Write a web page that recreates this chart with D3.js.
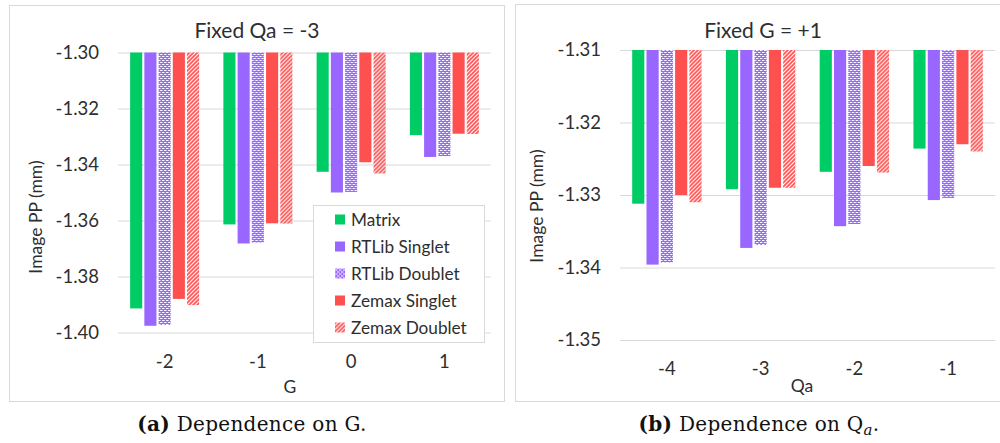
<!DOCTYPE html>
<html>
<head>
<meta charset="utf-8">
<script src="https://cdn.jsdelivr.net/npm/d3@7"></script>
<style>
  html, body { margin: 0; padding: 0; background: #fff; }
  svg { display: block; }
  text { font-family: Lato, "Open Sans", sans-serif; fill: #2e2e2e; }
  .caption { font-family: "DejaVu Serif", serif; fill: #111; }
</style>
</head>
<body>
<svg id="chart" width="1000" height="443"></svg>
<script>
// Series shown in both panels
const seriesNames = ["Matrix", "RTLib Singlet", "RTLib Doublet", "Zemax Singlet", "Zemax Doublet"];

// Panel (a): image principal plane vs G, Qa fixed at -3
const gCategories = ["-2", "-1", "0", "1"];
const gMatrix       = [-1.3914, -1.3614, -1.3426, -1.3295];
const gRTLibSinglet = [-1.3976, -1.3682, -1.3500, -1.3373];
const gRTLibDoublet = [-1.3973, -1.3679, -1.3498, -1.3370];
const gZemaxSinglet = [-1.3880, -1.3610, -1.3392, -1.3290];
const gZemaxDoublet = [-1.3902, -1.3611, -1.3432, -1.3291];
const gTicks = [-1.30, -1.32, -1.34, -1.36, -1.38, -1.40];

// Panel (b): image principal plane vs Qa, G fixed at +1
const qCategories = ["-4", "-3", "-2", "-1"];
const qMatrix       = [-1.3312, -1.3292, -1.3268, -1.3236];
const qRTLibSinglet = [-1.3396, -1.3373, -1.3343, -1.3307];
const qRTLibDoublet = [-1.3393, -1.3369, -1.3340, -1.3304];
const qZemaxSinglet = [-1.3300, -1.3290, -1.3260, -1.3230];
const qZemaxDoublet = [-1.3310, -1.3290, -1.3269, -1.3240];
const qTicks = [-1.31, -1.32, -1.33, -1.34, -1.35];

const GREEN = "#00CC66", PURPLE = "#9966FF", RED = "#FF5050";
const GRID = "#d9d9d9";

const svg = d3.select("#chart");
const defs = svg.append("defs");

// Dotted-grid fill for RTLib Doublet
const pDot = defs.append("pattern").attr("id", "patDot")
  .attr("patternUnits", "userSpaceOnUse").attr("width", 4).attr("height", 4);
pDot.append("rect").attr("width", 4).attr("height", 4).attr("fill", PURPLE);
pDot.append("rect").attr("x", 0).attr("y", 0).attr("width", 2).attr("height", 1).attr("fill", "#fff");
pDot.append("rect").attr("x", 2).attr("y", 2).attr("width", 2).attr("height", 1).attr("fill", "#fff");
pDot.append("rect").attr("x", 2).attr("y", 0).attr("width", 1).attr("height", 1).attr("fill", "#c8b0ff");
pDot.append("rect").attr("x", 0).attr("y", 2).attr("width", 1).attr("height", 1).attr("fill", "#c8b0ff");

// Upward diagonal stripes for Zemax Doublet
const pDiag = defs.append("pattern").attr("id", "patDiag")
  .attr("patternUnits", "userSpaceOnUse").attr("width", 4).attr("height", 4);
pDiag.append("rect").attr("width", 4).attr("height", 4).attr("fill", "#fff");
pDiag.append("path").attr("d", "M-1,1 L1,-1 M0,4 L4,0 M3,5 L5,3")
  .attr("stroke", RED).attr("stroke-width", 1.7);

const fills = [GREEN, PURPLE, "url(#patDot)", RED, "url(#patDiag)"];

// plain hyphen-minus tick text, two decimals
const fmt = d => d.toFixed(2);

function drawPanel(cfg) {
  const g = svg.append("g");

  // panel frame
  g.append("rect").attr("x", cfg.frame[0] + 0.5).attr("y", cfg.frame[1] + 0.5)
    .attr("width", cfg.frame[2]).attr("height", cfg.frame[3])
    .attr("fill", "#fff").attr("stroke", GRID).attr("stroke-width", 1);

  const y = d3.scaleLinear().domain([cfg.ticks[cfg.ticks.length - 1], cfg.ticks[0]])
    .range([cfg.yRange[0], cfg.yRange[1]]);
  const x0 = d3.scaleBand().domain(cfg.categories).range(cfg.xRange)
    .paddingInner(0.26).paddingOuter(0.13);
  const x1 = d3.scaleBand().domain(seriesNames).range([0, x0.bandwidth()]).paddingInner(0.15);

  // horizontal gridlines
  const grid = g.append("g").attr("transform", `translate(${cfg.xRange[0]},0)`)
    .call(d3.axisLeft(y).tickValues(cfg.ticks).tickSize(-(cfg.xRange[1] - cfg.xRange[0])).tickFormat(""));
  grid.select(".domain").remove();
  grid.selectAll("line").attr("stroke", GRID).attr("stroke-width", 1);

  // value tick labels
  const ya = g.append("g").attr("transform", `translate(${cfg.xRange[0] - 19},0)`)
    .call(d3.axisLeft(y).tickValues(cfg.ticks).tickSize(0).tickFormat(fmt));
  ya.select(".domain").remove();
  ya.selectAll("text").attr("font-family", "Lato, sans-serif").attr("font-size", 18.5)
    .attr("fill", "#2e2e2e").attr("dx", 0).attr("x", 0);

  // category tick labels
  const xa = g.append("g").attr("transform", `translate(0,${cfg.catY})`)
    .call(d3.axisBottom(x0).tickSize(0));
  xa.select(".domain").remove();
  xa.selectAll("text").attr("font-family", "Lato, sans-serif").attr("font-size", 18.5)
    .attr("fill", "#2e2e2e").attr("dy", 0).attr("y", 0);

  // bars hang down from the top of the value range
  const top = cfg.ticks[0];
  const groups = g.append("g").selectAll("g").data(cfg.categories).join("g")
    .attr("transform", d => `translate(${x0(d)},0)`);
  groups.selectAll("rect")
    .data((d, i) => seriesNames.map((s, k) => ({ s, k, v: cfg.values[k][i] })))
    .join("rect")
    .attr("x", d => x1(d.s))
    .attr("width", x1.bandwidth())
    .attr("y", y(top))
    .attr("height", d => y(d.v) - y(top))
    .attr("fill", d => fills[d.k]);

  // chart title
  g.append("text").attr("x", cfg.titleX).attr("y", 38).attr("text-anchor", "middle")
    .attr("font-size", 21).attr("fill", "#1e1e1e").text(cfg.title);

  // axis titles
  g.append("text").attr("transform", `translate(${cfg.yTitle[0]},${cfg.yTitle[1]}) rotate(-90)`)
    .attr("text-anchor", "middle").attr("dy", "0.35em").attr("font-size", 17.5)
    .text("Image PP (mm)");
  g.append("text").attr("x", cfg.xTitle[0]).attr("y", cfg.xTitle[1]).attr("text-anchor", "middle")
    .attr("font-size", 17.5).text(cfg.xLabel);

  return g;
}

drawPanel({
  frame: [9, 5, 495, 396],
  categories: gCategories,
  values: [gMatrix, gRTLibSinglet, gRTLibDoublet, gZemaxSinglet, gZemaxDoublet],
  ticks: gTicks,
  yRange: [332.5, 52.5],
  xRange: [118, 491],
  catY: 368,
  title: "Fixed Qa = -3", titleX: 257,
  yTitle: [36, 217], xTitle: [290, 393], xLabel: "G"
});

drawPanel({
  frame: [515, 4, 500, 397],
  categories: qCategories,
  values: [qMatrix, qRTLibSinglet, qRTLibDoublet, qZemaxSinglet, qZemaxDoublet],
  ticks: qTicks,
  yRange: [340, 50],
  xRange: [620, 995],
  catY: 375,
  title: "Fixed G = +1", titleX: 763,
  yTitle: [537, 206], xTitle: [802, 392], xLabel: "Qa"
});

// legend for panel (a)
const legend = svg.append("g");
legend.append("rect").attr("x", 313.5).attr("y", 205.5).attr("width", 171).attr("height", 137)
  .attr("fill", "#fff").attr("stroke", GRID);
const items = legend.selectAll("g.item").data(seriesNames).join("g").attr("class", "item")
  .attr("transform", (d, i) => `translate(335,${219.5 + i * 27})`);
items.append("rect").attr("x", 0).attr("y", -5).attr("width", 10).attr("height", 10)
  .attr("fill", (d, i) => fills[i]);
items.append("text").attr("x", 16).attr("dy", "0.35em").attr("font-size", 17.2).text(d => d);

// sub-figure captions
const capA = svg.append("text").attr("class", "caption").attr("x", 252).attr("y", 431)
  .attr("text-anchor", "middle").attr("font-size", 20).attr("letter-spacing", 0.3);
capA.append("tspan").attr("font-weight", "bold").text("(a)");
capA.append("tspan").text(" Dependence on G.");

const capB = svg.append("text").attr("class", "caption").attr("x", 759).attr("y", 431)
  .attr("text-anchor", "middle").attr("font-size", 20).attr("letter-spacing", 0.3);
capB.append("tspan").attr("font-weight", "bold").text("(b)");
capB.append("tspan").text(" Dependence on Q");
capB.append("tspan").attr("font-style", "italic").attr("font-size", 15).attr("dy", 4).text("a");
capB.append("tspan").attr("dy", -4).text(".");
</script>
</body>
</html>
